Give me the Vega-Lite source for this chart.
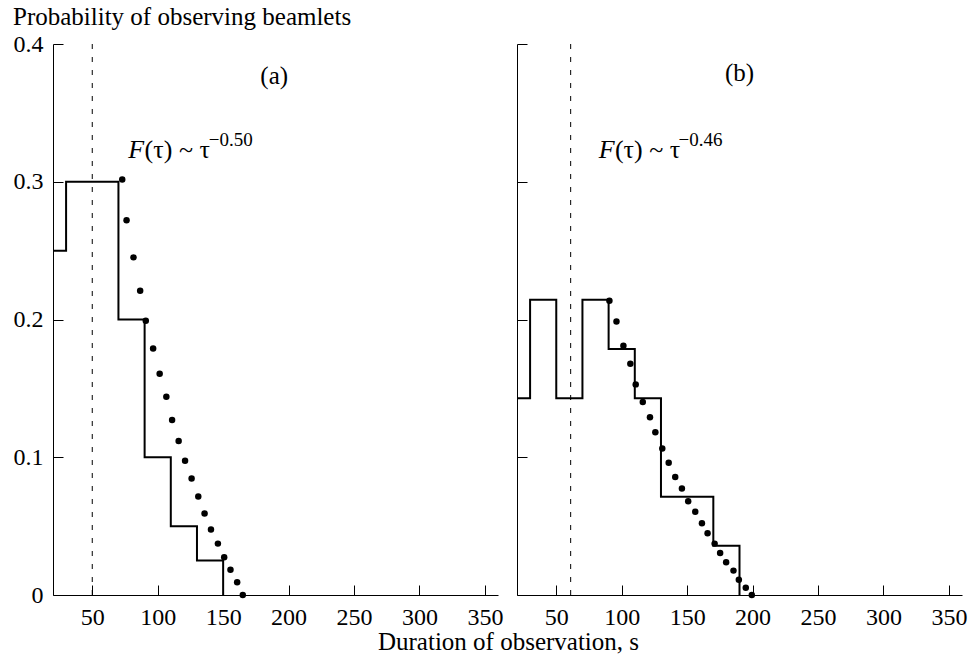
{
  "$schema": "https://vega.github.io/schema/vega-lite/v6.json",
  "background": "white",
  "padding": {"left": 13, "top": 5, "right": 5, "bottom": 5},
  "title": {
    "text": "Probability of observing beamlets",
    "anchor": "start",
    "font": "Liberation Serif",
    "fontSize": 25,
    "fontWeight": "normal",
    "color": "black",
    "offset": 2
  },
  "spacing": 19,
  "bounds": "flush",
  "config": {
    "view": {"stroke": null},
    "font": "Liberation Serif",
    "axis": {
      "domainColor": "black",
      "tickColor": "black",
      "labelColor": "black",
      "titleColor": "black",
      "labelFont": "Liberation Serif",
      "titleFont": "Liberation Serif",
      "labelFontSize": 24,
      "titleFontSize": 25,
      "titleFontWeight": "normal",
      "grid": false,
      "tickSize": -10,
      "domainWidth": 1,
      "tickWidth": 1,
      "labelFlush": false,
      "labelOverlap": false
    }
  },
  "datasets": {
    "stepA": [
      {"t": 20, "p": 0.25},
      {"t": 30, "p": 0.3},
      {"t": 70, "p": 0.2},
      {"t": 90, "p": 0.1},
      {"t": 110, "p": 0.05},
      {"t": 130, "p": 0.025},
      {"t": 150, "p": 0}
    ],
    "dotsA": [
      {"t": 72.9, "p": 0.3016},
      {"t": 76.2, "p": 0.272},
      {"t": 81.5, "p": 0.2451},
      {"t": 86.6, "p": 0.2209},
      {"t": 90.9, "p": 0.1991},
      {"t": 96.5, "p": 0.1789},
      {"t": 101.5, "p": 0.1607},
      {"t": 106.6, "p": 0.144},
      {"t": 111.0, "p": 0.1271},
      {"t": 116.0, "p": 0.1118},
      {"t": 120.9, "p": 0.0975},
      {"t": 125.9, "p": 0.0846},
      {"t": 131.0, "p": 0.0715},
      {"t": 135.8, "p": 0.0591},
      {"t": 140.7, "p": 0.0475},
      {"t": 146.0, "p": 0.0373},
      {"t": 150.8, "p": 0.0274},
      {"t": 155.6, "p": 0.0184},
      {"t": 160.7, "p": 0.0092},
      {"t": 165.0, "p": 0.0}
    ],
    "stepB": [
      {"t": 20, "p": 0.1429},
      {"t": 30, "p": 0.2143},
      {"t": 50, "p": 0.1429},
      {"t": 70, "p": 0.2143},
      {"t": 90, "p": 0.1786},
      {"t": 110, "p": 0.1429},
      {"t": 130, "p": 0.0714},
      {"t": 170, "p": 0.0357},
      {"t": 190, "p": 0}
    ],
    "dotsB": [
      {"t": 90.6, "p": 0.2136},
      {"t": 96.0, "p": 0.1985},
      {"t": 101.3, "p": 0.1809},
      {"t": 106.6, "p": 0.1678},
      {"t": 110.7, "p": 0.1529},
      {"t": 116.1, "p": 0.1401},
      {"t": 121.6, "p": 0.129},
      {"t": 125.7, "p": 0.1182},
      {"t": 131.0, "p": 0.1064},
      {"t": 135.9, "p": 0.096},
      {"t": 140.9, "p": 0.0856},
      {"t": 146.0, "p": 0.0773},
      {"t": 150.8, "p": 0.0681},
      {"t": 156.2, "p": 0.0604},
      {"t": 161.3, "p": 0.0521},
      {"t": 165.6, "p": 0.0449},
      {"t": 171.0, "p": 0.0373},
      {"t": 175.2, "p": 0.0305},
      {"t": 179.8, "p": 0.0238},
      {"t": 185.4, "p": 0.0177},
      {"t": 189.5, "p": 0.0111},
      {"t": 194.8, "p": 0.0053},
      {"t": 199.4, "p": 0.0}
    ],
    "dashA": [{"t": 50}],
    "dashB": [{"t": 61}],
    "labelsA": [
      {"t": 189, "p": 0.377, "txt": "(a)"}
    ],
    "labelsB": [
      {"t": 190, "p": 0.379, "txt": "(b)"}
    ],
    "formA": [
      {"t": 77.4, "p": 0.3171, "txt": "F", "part": "f"},
      {"t": 90.0, "p": 0.3171, "txt": "(τ) ~ τ", "part": "main"},
      {"t": 139.0, "p": 0.326, "txt": "−0.50", "part": "sup"}
    ],
    "formB": [
      {"t": 82.5, "p": 0.3171, "txt": "F", "part": "f"},
      {"t": 94.8, "p": 0.3171, "txt": "(τ) ~ τ", "part": "main"},
      {"t": 143.4, "p": 0.326, "txt": "−0.46", "part": "sup"}
    ]
  },
  "hconcat": [
    {
      "width": 445,
      "height": 551,
      "layer": [
        {
          "data": {"name": "stepA"},
          "mark": {"type": "line", "interpolate": "step-after", "color": "black", "strokeWidth": 2},
          "encoding": {
            "x": {
              "field": "t", "type": "quantitative",
              "scale": {"domain": [20, 360], "nice": false, "zero": false},
              "axis": {
                "values": [50, 100, 150, 200, 250, 300, 350],
                "labelPadding": 20,
                "title": "Duration of observation, s",
                "titleX": 455,
                "titleAlign": "center",
                "titleAnchor": null,
                "titleBaseline": "alphabetic",
                "titleY": 54
              }
            },
            "y": {
              "field": "p", "type": "quantitative",
              "scale": {"domain": [0, 0.4], "nice": false},
              "axis": {
                "values": [0, 0.1, 0.2, 0.3, 0.4],
                "labelExpr": "datum.value == 0 ? '0' : format(datum.value, '.1f')",
                "labelPadding": 20,
                "title": null
              }
            }
          }
        },
        {
          "data": {"name": "dotsA"},
          "mark": {"type": "circle", "color": "black", "opacity": 1, "size": 42},
          "encoding": {
            "x": {"field": "t", "type": "quantitative"},
            "y": {"field": "p", "type": "quantitative"}
          }
        },
        {
          "data": {"name": "dashA"},
          "mark": {"type": "rule", "color": "black", "strokeWidth": 1, "strokeDash": [5, 8]},
          "encoding": {
            "x": {"field": "t", "type": "quantitative"},
            "y": {"datum": 0},
            "y2": {"datum": 0.4}
          }
        },
        {
          "data": {"name": "labelsA"},
          "mark": {"type": "text", "font": "Liberation Serif", "fontSize": 25, "color": "black", "align": "center", "baseline": "middle"},
          "encoding": {
            "x": {"field": "t", "type": "quantitative"},
            "y": {"field": "p", "type": "quantitative"},
            "text": {"field": "txt"}
          }
        },
        {
          "data": {"name": "formA"},
          "transform": [{"filter": "datum.part == 'f'"}],
          "mark": {"type": "text", "font": "Liberation Serif", "fontStyle": "italic", "fontSize": 26, "color": "black", "align": "left", "baseline": "alphabetic"},
          "encoding": {
            "x": {"field": "t", "type": "quantitative"},
            "y": {"field": "p", "type": "quantitative"},
            "text": {"field": "txt"}
          }
        },
        {
          "data": {"name": "formA"},
          "transform": [{"filter": "datum.part == 'main'"}],
          "mark": {"type": "text", "font": "Liberation Serif", "fontSize": 26, "color": "black", "align": "left", "baseline": "alphabetic"},
          "encoding": {
            "x": {"field": "t", "type": "quantitative"},
            "y": {"field": "p", "type": "quantitative"},
            "text": {"field": "txt"}
          }
        },
        {
          "data": {"name": "formA"},
          "transform": [{"filter": "datum.part == 'sup'"}],
          "mark": {"type": "text", "font": "Liberation Serif", "fontSize": 19, "color": "black", "align": "left", "baseline": "alphabetic"},
          "encoding": {
            "x": {"field": "t", "type": "quantitative"},
            "y": {"field": "p", "type": "quantitative"},
            "text": {"field": "txt"}
          }
        }
      ]
    },
    {
      "width": 445,
      "height": 551,
      "layer": [
        {
          "data": {"name": "stepB"},
          "mark": {"type": "line", "interpolate": "step-after", "color": "black", "strokeWidth": 2},
          "encoding": {
            "x": {
              "field": "t", "type": "quantitative",
              "scale": {"domain": [20, 360], "nice": false, "zero": false},
              "axis": {
                "values": [50, 100, 150, 200, 250, 300, 350],
                "labelPadding": 20,
                "title": null
              }
            },
            "y": {
              "field": "p", "type": "quantitative",
              "scale": {"domain": [0, 0.4], "nice": false},
              "axis": {
                "values": [0, 0.1, 0.2, 0.3, 0.4],
                "labels": false,
                "title": null
              }
            }
          }
        },
        {
          "data": {"name": "dotsB"},
          "mark": {"type": "circle", "color": "black", "opacity": 1, "size": 42},
          "encoding": {
            "x": {"field": "t", "type": "quantitative"},
            "y": {"field": "p", "type": "quantitative"}
          }
        },
        {
          "data": {"name": "dashB"},
          "mark": {"type": "rule", "color": "black", "strokeWidth": 1, "strokeDash": [5, 8]},
          "encoding": {
            "x": {"field": "t", "type": "quantitative"},
            "y": {"datum": 0},
            "y2": {"datum": 0.4}
          }
        },
        {
          "data": {"name": "labelsB"},
          "mark": {"type": "text", "font": "Liberation Serif", "fontSize": 25, "color": "black", "align": "center", "baseline": "middle"},
          "encoding": {
            "x": {"field": "t", "type": "quantitative"},
            "y": {"field": "p", "type": "quantitative"},
            "text": {"field": "txt"}
          }
        },
        {
          "data": {"name": "formB"},
          "transform": [{"filter": "datum.part == 'f'"}],
          "mark": {"type": "text", "font": "Liberation Serif", "fontStyle": "italic", "fontSize": 26, "color": "black", "align": "left", "baseline": "alphabetic"},
          "encoding": {
            "x": {"field": "t", "type": "quantitative"},
            "y": {"field": "p", "type": "quantitative"},
            "text": {"field": "txt"}
          }
        },
        {
          "data": {"name": "formB"},
          "transform": [{"filter": "datum.part == 'main'"}],
          "mark": {"type": "text", "font": "Liberation Serif", "fontSize": 26, "color": "black", "align": "left", "baseline": "alphabetic"},
          "encoding": {
            "x": {"field": "t", "type": "quantitative"},
            "y": {"field": "p", "type": "quantitative"},
            "text": {"field": "txt"}
          }
        },
        {
          "data": {"name": "formB"},
          "transform": [{"filter": "datum.part == 'sup'"}],
          "mark": {"type": "text", "font": "Liberation Serif", "fontSize": 19, "color": "black", "align": "left", "baseline": "alphabetic"},
          "encoding": {
            "x": {"field": "t", "type": "quantitative"},
            "y": {"field": "p", "type": "quantitative"},
            "text": {"field": "txt"}
          }
        }
      ]
    }
  ]
}
